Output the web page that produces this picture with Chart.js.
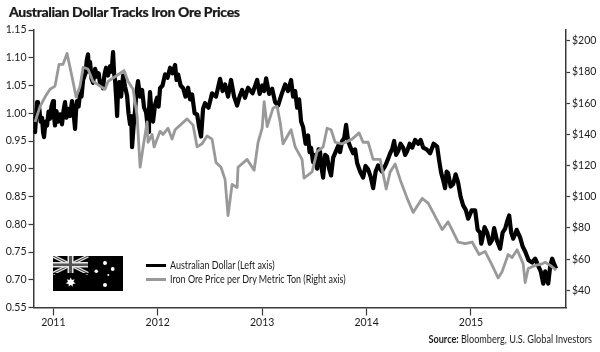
<!DOCTYPE html>
<html>
<head>
<meta charset="utf-8">
<script src="https://cdn.jsdelivr.net/npm/chart.js@4/dist/chart.umd.min.js"></script>
<style>
  html, body { margin: 0; padding: 0; background: #fff; }
  #wrap { position: relative; width: 600px; height: 352px; overflow: hidden; font-family: Lato, sans-serif; color: #1a1a1a; }
  canvas { position: absolute; left: 0; top: 0; }
  .txt { position: absolute; white-space: nowrap; }
  #title { left: 9px; top: 3px; font-size: 14px; font-weight: 900; letter-spacing: -0.36px; -webkit-text-stroke: 0.2px #1a1a1a; }
  #source { right: 8px; top: 332px; font-size: 11px; transform: scaleX(0.83); transform-origin: right center; }
  .legend { left: 170px; font-size: 11px; transform: scaleX(0.815); transform-origin: left center; }
  .swatch { position: absolute; left: 146px; width: 20px; height: 3px; }
  #flag { position: absolute; left: 53px; top: 256px; }
</style>
</head>
<body>
<div id="wrap">
  <canvas id="ausChart" width="600" height="352"></canvas>
  <div class="txt" id="title">Australian Dollar Tracks Iron Ore Prices</div>
  <svg id="flag" width="70" height="35" viewBox="0 0 70 35">
    <rect width="70" height="35" fill="#000"/>
    <g stroke="#e4e4e4" stroke-width="3.4">
      <line x1="0" y1="0" x2="35" y2="17.5"/>
      <line x1="35" y1="0" x2="0" y2="17.5"/>
    </g>
    <g stroke="#333" stroke-width="1">
      <line x1="0" y1="0" x2="35" y2="17.5"/>
      <line x1="35" y1="0" x2="0" y2="17.5"/>
    </g>
    <rect x="14.5" y="0" width="6" height="17.5" fill="#e4e4e4"/>
    <rect x="0" y="6" width="35" height="5.5" fill="#e4e4e4"/>
    <rect x="16" y="0" width="3" height="17.5" fill="#555"/>
    <rect x="0" y="7.5" width="35" height="2.5" fill="#555"/>
    <rect x="0" y="17" width="35" height="1" fill="#000"/>
    <g fill="#fff">
      <polygon points="17.7,21.5 18.9,24 21.6,23.3 20.4,25.8 22.6,27.5 19.8,27.9 19.7,30.7 17.7,28.7 15.7,30.7 15.6,27.9 12.8,27.5 15,25.8 13.8,23.3 16.5,24"/>
      <circle cx="52" cy="7" r="2"/>
      <circle cx="59.7" cy="13" r="1.9"/>
      <circle cx="43.3" cy="15.3" r="1.8"/>
      <circle cx="55.3" cy="19" r="1"/>
      <circle cx="52" cy="29" r="2"/>
    </g>
  </svg>
  <div class="swatch" style="top:264px;background:#000"></div>
  <div class="txt legend" style="top:258px">Australian Dollar (Left axis)</div>
  <div class="swatch" style="top:278px;background:#999"></div>
  <div class="txt legend" style="top:272px">Iron Ore Price per Dry Metric Ton (Right axis)</div>
  <div class="txt" id="source"><b>Source:</b> Bloomberg, U.S. Global Investors</div>
</div>
<script>
  // Axis labels as printed on the picture
  const xTicks = [2011, 2012, 2013, 2014, 2015];
  const audTicks = [0.65, 0.70, 0.75, 0.80, 0.85, 0.90, 0.95, 1.00, 1.05, 1.10, 1.15];
  const audTickLabels = ['0.55', '0.70', '0.75', '0.80', '0.85', '0.90', '0.95', '1.00', '1.05', '1.10', '1.15'];
  const oreTicks = [40, 60, 80, 100, 120, 140, 160, 180, 200];

  // Australian dollar
  const audYears = [
    2010.806, 2010.815, 2010.825, 2010.835, 2010.844, 2010.853, 2010.863, 2010.878, 2010.892, 2010.902, 2010.911, 2010.925, 2010.94, 2010.954, 2010.968, 2010.982, 2010.997,
    2011.006, 2011.016, 2011.03, 2011.045, 2011.064, 2011.083, 2011.098, 2011.112, 2011.126, 2011.141, 2011.16, 2011.179, 2011.194, 2011.208, 2011.218, 2011.227, 2011.242, 2011.256, 2011.27, 2011.285, 2011.308, 2011.32, 2011.332, 2011.342, 2011.352, 2011.366, 2011.38, 2011.4, 2011.419, 2011.434, 2011.448, 2011.462, 2011.476, 2011.49, 2011.505, 2011.524, 2011.544, 2011.558, 2011.572, 2011.582, 2011.591, 2011.601, 2011.611, 2011.62, 2011.63, 2011.649, 2011.668, 2011.687, 2011.706, 2011.72, 2011.735, 2011.745, 2011.754, 2011.768, 2011.783, 2011.797, 2011.811, 2011.83, 2011.85, 2011.869, 2011.888, 2011.898, 2011.907, 2011.916, 2011.926, 2011.94, 2011.955, 2011.974, 2011.993,
    2012.008, 2012.022, 2012.046, 2012.07, 2012.094, 2012.118, 2012.142, 2012.166, 2012.18, 2012.195, 2012.219, 2012.243, 2012.266, 2012.29, 2012.31, 2012.329, 2012.353, 2012.377, 2012.396, 2012.415, 2012.434, 2012.453, 2012.486, 2012.52, 2012.558, 2012.597, 2012.621, 2012.645, 2012.673, 2012.702, 2012.731, 2012.76, 2012.784, 2012.808, 2012.836, 2012.865, 2012.908, 2012.952, 2012.976,
    2013.0, 2013.019, 2013.038, 2013.067, 2013.096, 2013.124, 2013.153, 2013.186, 2013.22, 2013.248, 2013.277, 2013.296, 2013.316, 2013.335, 2013.354, 2013.373, 2013.392, 2013.416, 2013.44, 2013.454, 2013.468, 2013.488, 2013.507, 2013.526, 2013.54, 2013.555, 2013.57, 2013.584, 2013.603, 2013.622, 2013.641, 2013.66, 2013.68, 2013.703, 2013.727, 2013.746, 2013.766, 2013.785, 2013.804, 2013.823, 2013.847, 2013.871, 2013.89, 2013.91, 2013.938, 2013.967, 2013.99,
    2014.015, 2014.04, 2014.063, 2014.087, 2014.111, 2014.145, 2014.178, 2014.2, 2014.226, 2014.245, 2014.264, 2014.283, 2014.303, 2014.326, 2014.35, 2014.37, 2014.389, 2014.413, 2014.437, 2014.465, 2014.494, 2014.518, 2014.542, 2014.575, 2014.609, 2014.642, 2014.676, 2014.695, 2014.714, 2014.733, 2014.752, 2014.767, 2014.781, 2014.805, 2014.829, 2014.853, 2014.877, 2014.9, 2014.925, 2014.95, 2014.973,
    2015.006, 2015.04, 2015.064, 2015.088, 2015.098, 2015.107, 2015.13, 2015.155, 2015.18, 2015.203, 2015.222, 2015.25, 2015.279, 2015.303, 2015.327, 2015.346, 2015.366, 2015.385, 2015.404, 2015.438, 2015.471, 2015.495, 2015.519, 2015.552, 2015.586, 2015.615, 2015.644, 2015.668, 2015.692, 2015.711, 2015.725, 2015.74, 2015.759, 2015.778, 2015.797, 2015.816
  ];
  const audValues = [
    0.980, 0.990, 0.966, 0.995, 1.020, 1.000, 1.012, 0.985, 0.992, 0.965, 0.957, 0.985, 0.978, 1.003, 0.990, 1.012, 1.022,
    0.995, 0.978, 1.004, 0.985, 0.998, 0.980, 1.005, 1.020, 0.992, 1.008, 0.995, 1.022, 1.000, 0.972, 1.005, 1.022, 1.012, 1.036, 1.030, 1.060, 1.072, 1.095, 1.106, 1.075, 1.092, 1.062, 1.055, 1.080, 1.066, 1.072, 1.052, 1.058, 1.045, 1.070, 1.082, 1.068, 1.085, 1.075, 1.110, 1.072, 1.060, 1.030, 0.995, 1.045, 1.056, 1.030, 1.068, 1.048, 1.032, 1.000, 0.980, 0.995, 0.939, 0.975, 1.005, 1.040, 1.058, 1.030, 1.042, 1.010, 1.002, 0.985, 0.966, 1.005, 1.038, 1.000, 0.985, 1.015, 1.028,
    1.012, 1.045, 1.050, 1.070, 1.064, 1.082, 1.072, 1.087, 1.060, 1.070, 1.050, 1.045, 1.030, 1.046, 1.025, 1.034, 1.000, 0.998, 0.975, 0.958, 1.008, 1.018, 1.010, 1.036, 1.030, 1.062, 1.040, 1.052, 1.030, 1.060, 1.030, 1.014, 1.030, 1.042, 1.028, 1.046, 1.036, 1.060, 1.035,
    1.050, 1.040, 1.063, 1.035, 1.044, 1.020, 1.014, 1.034, 1.052, 1.040, 1.060, 1.030, 1.040, 1.010, 1.025, 0.985, 0.975, 0.945, 0.960, 0.930, 0.938, 0.912, 0.925, 0.900, 0.935, 0.930, 0.900, 0.884, 0.925, 0.922, 0.900, 0.888, 0.920, 0.930, 0.941, 0.930, 0.950, 0.955, 0.979, 0.950, 0.938, 0.928, 0.935, 0.910, 0.895, 0.884, 0.905,
    0.899, 0.885, 0.865, 0.895, 0.906, 0.895, 0.905, 0.915, 0.928, 0.935, 0.950, 0.925, 0.932, 0.945, 0.938, 0.925, 0.932, 0.945, 0.938, 0.952, 0.945, 0.952, 0.938, 0.935, 0.928, 0.945, 0.940, 0.915, 0.893, 0.880, 0.865, 0.895, 0.892, 0.868, 0.872, 0.890, 0.875, 0.850, 0.834, 0.826, 0.810,
    0.825, 0.825, 0.790, 0.785, 0.765, 0.772, 0.795, 0.785, 0.765, 0.772, 0.793, 0.770, 0.756, 0.785, 0.792, 0.805, 0.816, 0.785, 0.774, 0.790, 0.776, 0.760, 0.751, 0.735, 0.731, 0.738, 0.725, 0.715, 0.693, 0.715, 0.700, 0.693, 0.725, 0.738, 0.728, 0.720
  ];

  // Iron ore price per dry metric ton
  const oreYears = [2010.825, 2010.873, 2010.92, 2010.968, 2011.016, 2011.055, 2011.093, 2011.131, 2011.179, 2011.218, 2011.256, 2011.285, 2011.332, 2011.38, 2011.448, 2011.495, 2011.524, 2011.591, 2011.677, 2011.716, 2011.764, 2011.802, 2011.831, 2011.86, 2011.898, 2011.907, 2011.946, 2011.965, 2012.022, 2012.051, 2012.099, 2012.137, 2012.166, 2012.281, 2012.338, 2012.377, 2012.425, 2012.472, 2012.52, 2012.558, 2012.606, 2012.645, 2012.673, 2012.712, 2012.76, 2012.769, 2012.856, 2012.923, 2012.961, 2013.0, 2013.019, 2013.048, 2013.105, 2013.143, 2013.172, 2013.2, 2013.277, 2013.316, 2013.382, 2013.401, 2013.478, 2013.526, 2013.584, 2013.622, 2013.66, 2013.699, 2013.766, 2013.861, 2013.928, 2013.967, 2014.015, 2014.063, 2014.13, 2014.188, 2014.226, 2014.274, 2014.322, 2014.389, 2014.446, 2014.533, 2014.59, 2014.676, 2014.724, 2014.781, 2014.877, 2014.944, 2015.011, 2015.078, 2015.135, 2015.203, 2015.26, 2015.298, 2015.356, 2015.394, 2015.442, 2015.5, 2015.519, 2015.548, 2015.615, 2015.682, 2015.711, 2015.759, 2015.816];
  const oreValues = [148, 158, 164, 169, 171, 185, 185, 192, 177, 164, 171, 183, 182, 174, 171, 169, 174, 177, 181, 174, 169, 152, 119, 132, 148, 135, 140, 132, 142, 140, 144, 137, 143, 150, 146, 132, 134, 139, 137, 122, 119, 111, 88, 108, 106, 119, 124, 117, 135, 144, 161, 145, 157, 158, 148, 134, 143, 132, 124, 112, 116, 129, 132, 144, 143, 135, 134, 137, 141, 135, 135, 124, 124, 105, 116, 121, 111, 99, 90, 99, 96, 85, 79, 84, 71, 70, 71, 63, 65, 56, 48, 52, 63, 61, 66, 57, 45, 54, 56, 57, 58, 56, 53];

  const axisColor = '#3a3a3a';
  const tickFont = { family: 'Lato', size: 10.5 };

  const ctx = document.getElementById('ausChart').getContext('2d');
  // tick labels are set tight in the original
  ctx.letterSpacing = '-0.5px';

  new Chart(ctx, {
    type: 'line',
    data: {
      datasets: [
        {
          label: 'Iron Ore Price per Dry Metric Ton (Right axis)',
          data: oreYears.map((x, i) => ({ x: x, y: oreValues[i] })),
          yAxisID: 'yRight',
          borderColor: '#999999',
          borderWidth: 2.8,
          borderJoinStyle: 'round',
          pointRadius: 0,
          order: 1
        },
        {
          label: 'Australian Dollar (Left axis)',
          data: audYears.map((x, i) => ({ x: x, y: audValues[i] })),
          yAxisID: 'yLeft',
          borderColor: '#000000',
          borderWidth: 4.2,
          borderJoinStyle: 'round',
          pointRadius: 0,
          order: 2
        }
      ]
    },
    options: {
      responsive: false,
      animation: false,
      layout: { padding: { top: 30 } },
      plugins: { legend: { display: false }, tooltip: { enabled: false } },
      scales: {
        x: {
          type: 'linear',
          min: 2010.81,
          max: 2015.91,
          afterBuildTicks: axis => { axis.ticks = xTicks.map(v => ({ value: v })); },
          afterFit: axis => { axis.height = 44.5; },
          ticks: { callback: v => String(v), color: '#1a1a1a', font: tickFont, padding: 1, maxRotation: 0 },
          grid: { drawOnChartArea: false, tickLength: 8, tickColor: axisColor, tickWidth: 1.2 },
          border: { color: axisColor, width: 1.5 }
        },
        yLeft: {
          position: 'left',
          min: 0.65,
          max: 1.15,
          afterBuildTicks: axis => { axis.ticks = audTicks.map(v => ({ value: v })); },
          afterFit: axis => { axis.width = 33.5; },
          ticks: { callback: (v, i) => audTickLabels[i], color: '#1a1a1a', font: tickFont, padding: 2 },
          grid: { drawOnChartArea: false, tickLength: 5, tickColor: axisColor, tickWidth: 1.2 },
          border: { color: axisColor, width: 1.5 }
        },
        yRight: {
          position: 'right',
          min: 29,
          max: 207,
          afterBuildTicks: axis => { axis.ticks = oreTicks.map(v => ({ value: v })); },
          afterFit: axis => { axis.width = 34; },
          ticks: { callback: v => '$' + v, color: '#1a1a1a', font: tickFont, padding: 2 },
          grid: { drawOnChartArea: false, tickLength: 4, tickColor: axisColor, tickWidth: 1.2 },
          border: { color: axisColor, width: 1.5 }
        }
      }
    }
  });
</script>
</body>
</html>
